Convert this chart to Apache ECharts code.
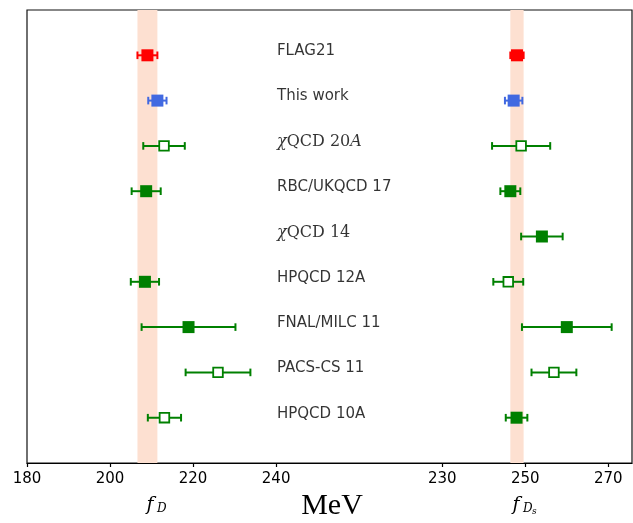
<!DOCTYPE html>
<html>
<head>
<meta charset="utf-8">
<script src="https://cdn.jsdelivr.net/npm/echarts@6/dist/echarts.min.js"></script>
<style>
  html, body { margin: 0; padding: 0; background: #fff; }
  #chart { width: 633px; height: 523px; }
</style>
</head>
<body>
<div id="chart"></div>
<script>
// rows from top to bottom
const studies = ['FLAG21', 'This work', 'χQCD 20A', 'RBC/UKQCD 17', 'χQCD 14',
                 'HPQCD 12A', 'FNAL/MILC 11', 'PACS-CS 11', 'HPQCD 10A'];
const rowColors = ['#ff0000', '#4169e1', '#008000', '#008000', '#008000',
                   '#008000', '#008000', '#008000', '#008000'];

// f_D [MeV]
const fD      = [209.0, 211.4, 213.0, 208.7, null, 208.4, 218.9, 226.0, 213.1];
const fDErr   = [2.4, 2.2, 5.0, 3.5, null, 3.4, 11.3, 7.8, 4.0];
const fDOpen  = [false, false, true, false, false, false, false, true, true];

// f_Ds [MeV]
const fDs     = [248.0, 247.2, 249.0, 246.4, 254.0, 245.9, 260.0, 256.9, 247.9];
const fDsErr  = [1.6, 2.1, 7.0, 2.4, 5.0, 3.6, 10.8, 5.4, 2.6];
const fDsOpen = [false, false, true, false, false, true, false, true, false];

// FLAG21 averages shown as bands
const bandD  = [209.0 - 2.4, 209.0 + 2.4];
const bandDs = [248.0 - 1.6, 248.0 + 1.6];

const ticksD  = [180, 200, 220, 240];
const ticksDs = [230, 250, 270];

const labelX = 240.2;   // where the study names start (f_D axis units)

const chart = echarts.init(document.getElementById('chart'));

function rowY(i) { return studies.length - 1 - i; }

function buildData(vals, errs) {
    const out = [];
    vals.forEach((v, i) => {
        if (v !== null) out.push([v, rowY(i), errs[i], i]);
    });
    return out;
}

function makeRender(openArr) {
    return function (params, api) {
        const x = api.value(0), y = api.value(1), e = api.value(2), row = api.value(3);
        const c = api.coord([x, y]);
        const l = api.coord([x - e, y]);
        const r = api.coord([x + e, y]);
        const col = rowColors[row];
        const cap = 3.8;
        const children = [
            { type: 'line', shape: { x1: l[0], y1: c[1], x2: r[0], y2: c[1] },
              style: { stroke: col, lineWidth: 2 } },
            { type: 'line', shape: { x1: l[0], y1: c[1] - cap, x2: l[0], y2: c[1] + cap },
              style: { stroke: col, lineWidth: 2 } },
            { type: 'line', shape: { x1: r[0], y1: c[1] - cap, x2: r[0], y2: c[1] + cap },
              style: { stroke: col, lineWidth: 2 } }
        ];
        if (openArr[row]) {
            children.push({ type: 'rect', shape: { x: c[0] - 4.8, y: c[1] - 4.8, width: 9.6, height: 9.6 },
                            style: { fill: '#fff', stroke: col, lineWidth: 1.8 } });
        } else {
            children.push({ type: 'rect', shape: { x: c[0] - 6, y: c[1] - 6, width: 12, height: 12 },
                            style: { fill: col } });
        }
        return { type: 'group', children: children };
    };
}

function labelText(name) {
    if (name.indexOf('χQCD') === 0) {
        const rest = name.replace('χQCD ', '');
        if (/A$/.test(rest)) return '{i|χ}{r|QCD ' + rest.slice(0, -1) + '}{i|A}';
        return '{i|χ}{r|QCD ' + rest + '}';
    }
    return name;
}

const axisCommon = {
    type: 'value',
    position: 'bottom',
    splitLine: { show: false },
    axisTick: { show: true, length: 4, lineStyle: { color: '#000', width: 1.2 } },
    axisLabel: { show: true, color: '#000', fontFamily: 'DejaVu Sans', fontSize: 15, margin: 9 }
};

const option = {
    animation: false,
    backgroundColor: '#fff',
    grid: { left: 27, right: 1, top: 10, bottom: 60, show: true,
            borderColor: '#111', borderWidth: 1.2, backgroundColor: 'transparent' },
    xAxis: [
        Object.assign({}, axisCommon, {
            min: 180, max: 325.7,
            axisLine: { show: true, onZero: false, lineStyle: { color: '#000', width: 1.2 } },
            axisTick: Object.assign({}, axisCommon.axisTick, { customValues: ticksD }),
            axisLabel: Object.assign({}, axisCommon.axisLabel, { customValues: ticksD })
        }),
        Object.assign({}, axisCommon, {
            min: 130, max: 275.7,
            axisLine: { show: false, onZero: false },
            axisTick: Object.assign({}, axisCommon.axisTick, { customValues: ticksDs }),
            axisLabel: Object.assign({}, axisCommon.axisLabel, { customValues: ticksDs })
        })
    ],
    yAxis: {
        type: 'value', min: -1, max: 9, show: false
    },
    series: [
        {
            type: 'custom', name: 'fD', xAxisIndex: 0, z: 3,
            renderItem: makeRender(fDOpen),
            data: buildData(fD, fDErr),
            markArea: {
                silent: true,
                itemStyle: { color: '#fde0d1' },
                data: [[{ xAxis: bandD[0] }, { xAxis: bandD[1] }]]
            }
        },
        {
            type: 'custom', name: 'fDs', xAxisIndex: 1, z: 3,
            renderItem: makeRender(fDsOpen),
            data: buildData(fDs, fDsErr),
            markArea: {
                silent: true,
                itemStyle: { color: '#fde0d1' },
                data: [[{ xAxis: bandDs[0] }, { xAxis: bandDs[1] }]]
            }
        },
        {
            type: 'scatter', name: 'labels', xAxisIndex: 0, symbolSize: 0, silent: true,
            data: studies.map((s, i) => ({ value: [labelX, rowY(i)], name: s })),
            label: {
                show: true, position: 'right', distance: 0, offset: [0, -4],
                color: '#000', fontFamily: 'DejaVu Sans', fontSize: 15,
                formatter: p => labelText(p.name),
                rich: {
                    i: { fontFamily: 'DejaVu Serif', fontStyle: 'italic', fontSize: 16, color: '#000' },
                    r: { fontFamily: 'DejaVu Serif', fontSize: 16, color: '#000' }
                }
            }
        }
    ],
    graphic: [
        { type: 'text', x: 150, y: 505,
          style: { text: 'f', font: 'italic 19px "DejaVu Serif"', fill: '#000', align: 'center', verticalAlign: 'middle' } },
        { type: 'text', x: 157, y: 509,
          style: { text: 'D', font: 'italic 12px "DejaVu Serif"', fill: '#000', align: 'left', verticalAlign: 'middle' } },
        { type: 'text', x: 516, y: 505,
          style: { text: 'f', font: 'italic 19px "DejaVu Serif"', fill: '#000', align: 'center', verticalAlign: 'middle' } },
        { type: 'text', x: 523, y: 509,
          style: { text: 'D', font: 'italic 12px "DejaVu Serif"', fill: '#000', align: 'left', verticalAlign: 'middle' } },
        { type: 'text', x: 532, y: 512,
          style: { text: 's', font: 'italic 9px "DejaVu Serif"', fill: '#000', align: 'left', verticalAlign: 'middle' } },
        { type: 'text', x: 332, y: 521,
          style: { text: 'MeV', font: '30px "Liberation Serif"', fill: '#000', align: 'center', verticalAlign: 'bottom' } }
    ]
};

chart.setOption(option);
</script>
</body>
</html>
